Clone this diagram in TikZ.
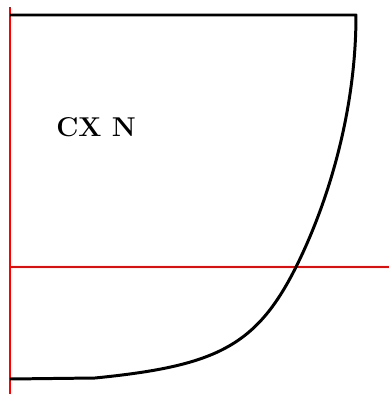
\documentclass[tikz,border=0pt]{standalone}
\begin{document}
\begin{tikzpicture}[scale=0.02]
    \tikzstyle{every node}+=[inner sep=0pt]
    \tikzstyle{axis}=[red, line width=0.8pt]
    \tikzstyle{hull}=[black, line width=1.7pt, line join=round]
    \useasboundingbox (0,0) rectangle (389,-394);
    \draw [axis] (10,-7) -- (10,-394);
    \draw [axis] (10,-267) -- (389,-267);
    \draw [hull] (10,-15) -- (356,-15)
      .. controls (356,-115) and (326,-207) .. (296,-267)
      .. controls (256,-347) and (215,-366) .. (95,-378)
      -- (10,-379);
    \node (label) at (96,-127) {\fontsize{15.5}{18}\selectfont\bfseries CX N};
\end{tikzpicture}
\end{document}
